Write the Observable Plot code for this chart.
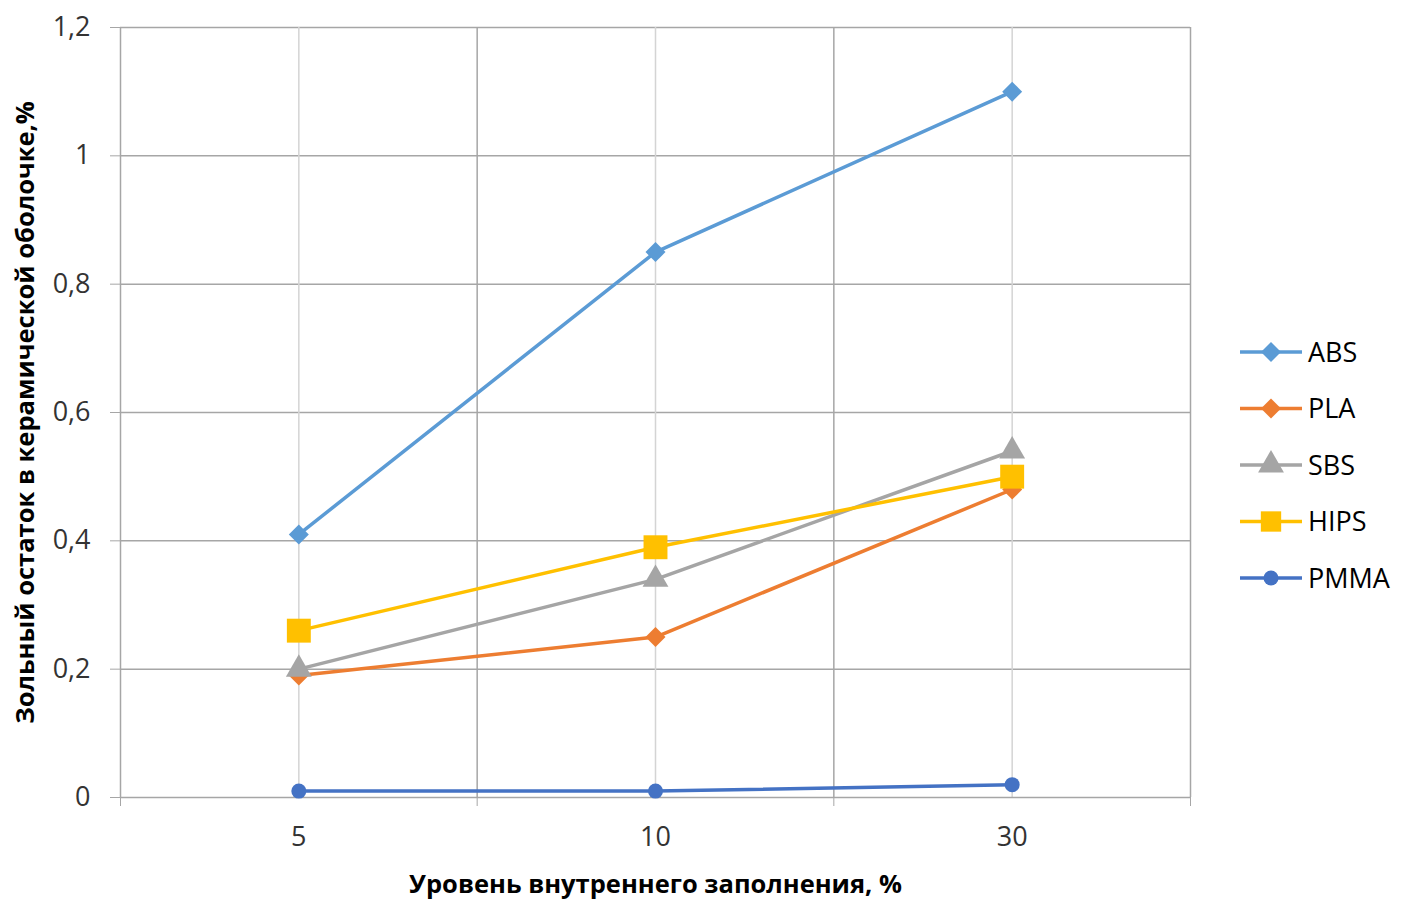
<!DOCTYPE html>
<html><head><meta charset="utf-8">
<script src="https://cdn.jsdelivr.net/npm/d3@7"></script>
<script src="https://cdn.jsdelivr.net/npm/@observablehq/plot@0.6"></script>
<style>body{margin:0;background:#fff;} svg{display:block}</style>
</head><body><div id="chart"></div>
<script>
const categories = ["5", "10", "30"];
const seriesNames = ["ABS", "PLA", "SBS", "HIPS", "PMMA"];
const absValues = [0.41, 0.85, 1.10];
const plaValues = [0.19, 0.25, 0.48];
const sbsValues = [0.20, 0.34, 0.54];
const hipsValues = [0.26, 0.39, 0.50];
const pmmaValues = [0.01, 0.01, 0.02];
const yTicks = [0, 0.2, 0.4, 0.6, 0.8, 1, 1.2];
const xTitle = "Уровень внутреннего заполнения, %";
const yTitle = "Зольный остаток в керамической оболочке,%";

const valuesBySeries = {ABS: absValues, PLA: plaValues, SBS: sbsValues, HIPS: hipsValues, PMMA: pmmaValues};
const colors = {ABS: "#5B9BD5", PLA: "#ED7D31", SBS: "#A5A5A5", HIPS: "#FFC000", PMMA: "#4472C4"};
const symbols = {ABS: "diamond2", PLA: "diamond2", SBS: "triangle", HIPS: "square", PMMA: "circle"};
const radii = {ABS: 9, PLA: 9, SBS: 9.6, HIPS: 13.5, PMMA: 7.5};

const rows = seriesNames.flatMap(s => categories.map((c, i) => ({series: s, cat: c, xi: i, value: valuesBySeries[s][i]})));
const centers = categories.map((_, i) => i);
const bounds = [...categories.map((_, i) => i - 0.5), categories.length - 0.5];
const font = "'Open Sans', 'Noto Sans', sans-serif";
const grid = "#a6a6a6";
const tickFont = 27;
const titleFont = 25.5;

const marks = [
  Plot.gridY(yTicks.filter(t => t > 0), {stroke: grid, strokeOpacity: 1, strokeWidth: 1.5}),
  Plot.ruleX(centers, {stroke: "#d4d4d4", strokeWidth: 1.5}),
  Plot.ruleX(bounds, {stroke: grid, strokeWidth: 1.5}),
  Plot.ruleY([0], {stroke: grid, strokeWidth: 1.5}),
  Plot.axisY({ticks: yTicks, tickSize: 10, tickPadding: 20, stroke: grid, fill: "#333", fontSize: tickFont, tickFormat: d => String(d).replace(".", ","), label: null}),
  Plot.axisX({ticks: bounds, tickSize: 9, tickFormat: () => "", stroke: grid, label: null}),
  Plot.axisX({ticks: centers, tickSize: 0, tickPadding: 29, fill: "#333", fontSize: tickFont, tickFormat: i => categories[i], label: null}),
  ...seriesNames.map(s => Plot.line(rows.filter(d => d.series === s), {x: "xi", y: "value", stroke: colors[s], strokeWidth: 3.5})),
  ...seriesNames.map(s => Plot.dot(rows.filter(d => d.series === s), {x: "xi", y: "value", fill: colors[s], symbol: symbols[s], r: radii[s]})),
  Plot.text([xTitle], {frameAnchor: "bottom", dy: 87, lineAnchor: "middle", fontWeight: "bold", fontSize: titleFont, fill: "#000"}),
  Plot.text([yTitle], {frameAnchor: "left", dx: -95, rotate: -90, textAnchor: "middle", lineAnchor: "middle", fontWeight: "bold", fontSize: titleFont, fill: "#000"})
];

const chart = Plot.plot({
  width: 1417, height: 899,
  marginLeft: 120, marginRight: 227, marginTop: 27, marginBottom: 102,
  style: {fontFamily: font, fontSize: "24px", background: "#fff", overflow: "visible"},
  x: {domain: [-0.5, categories.length - 0.5], axis: null},
  y: {domain: [0, 1.2], axis: null},
  marks
});

// Legend
const svg = d3.select(chart);
const lg = svg.append("g").attr("font-family", font).attr("font-size", tickFont).attr("text-anchor", "start");
seriesNames.forEach((s, i) => {
  const y = 352 + i * 56.5;
  const g = lg.append("g").attr("transform", `translate(0,${y})`);
  g.append("line").attr("x1", 1240).attr("x2", 1302).attr("y1", 0).attr("y2", 0)
    .attr("stroke", colors[s]).attr("stroke-width", 3.5);
  const r = radii[s] * (s === "HIPS" ? 0.85 : 1);
  const sym = {diamond2: d3.symbolDiamond2, triangle: d3.symbolTriangle, square: d3.symbolSquare, circle: d3.symbolCircle}[symbols[s]];
  g.append("path").attr("transform", "translate(1271,0)")
    .attr("d", d3.symbol(sym, r * r * Math.PI)()).attr("fill", colors[s]);
  g.append("text").attr("x", 1308).attr("y", 0).attr("dy", "0.36em").attr("fill", "#000").text(s);
});

document.getElementById("chart").appendChild(chart);
</script>
</body></html>
